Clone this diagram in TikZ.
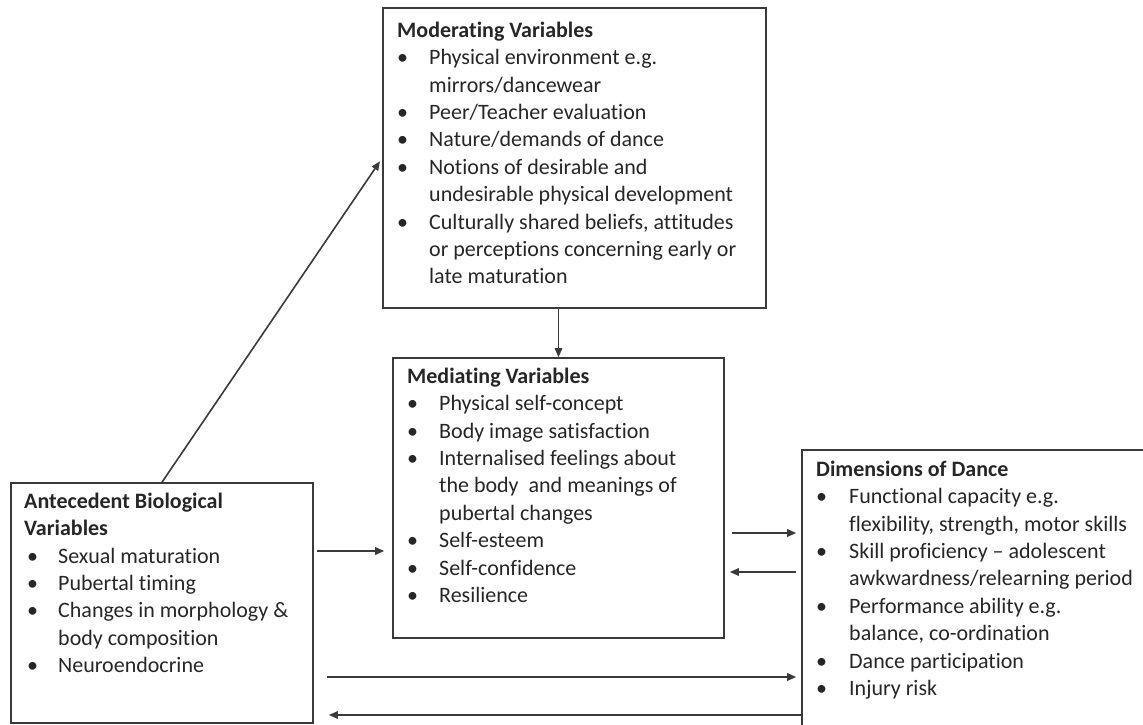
\documentclass[tikz,border=0pt]{standalone}
\usepackage{fontspec}
\setmainfont{Carlito}[Ligatures=NoCommon]
\usetikzlibrary{arrows.meta}
\definecolor{ink}{HTML}{262626}
\definecolor{edge}{HTML}{3A3A3A}
\newcommand\bul{\makebox[32pt][l]{\textbullet}}
\newcommand\ind{\hspace*{32pt}}
\newcommand\fst{\rule{0pt}{20pt}}
\begin{document}
\begin{tikzpicture}[x=1pt,y=-1pt,
  box/.style={draw=edge,line width=1.6pt,inner sep=0pt},
  txt/.style={anchor=north west,inner sep=0pt,align=left,text=ink,font=\fontsize{22}{27.4}\selectfont},
  arr/.style={draw=edge,line width=1.6pt,-{Triangle[length=9pt,width=7.5pt]}}]
\useasboundingbox (0,0) rectangle (1143,725);
% boxes
\node[box,minimum width=383pt,minimum height=300pt] (mod) at (574.5,158) {};
\node[box,minimum width=331pt,minimum height=280pt] (med) at (558.5,498) {};
\node[box,minimum width=302pt,minimum height=240pt] (ant) at (162,603) {};
\node[box,minimum width=348pt,minimum height=290pt] (dim) at (976,595) {};
% texts
\node[txt] (modt) at (397,17) {\fst\textbf{Moderating Variables}\\
\bul Physical environment e.g.\\
\ind mirrors/dancewear\\
\bul Peer/Teacher evaluation\\
\bul Nature/demands of dance\\
\bul Notions of desirable and\\
\ind undesirable physical development\\
\bul Culturally shared beliefs, attitudes\\
\ind or perceptions concerning early or\\
\ind late maturation};
\node[txt] (medt) at (407,363) {\fst\textbf{Mediating Variables}\\
\bul Physical self-concept\\
\bul Body image satisfaction\\
\bul Internalised feelings about\\
\ind the body\ \ and meanings of\\
\ind pubertal changes\\
\bul Self-esteem\\
\bul Self-confidence\\
\bul Resilience};
\node[txt] (antt) at (24,488) {\fst\textbf{Antecedent Biological}\\
\textbf{Variables}\\
\hspace*{3pt}\makebox[31pt][l]{\textbullet}Sexual maturation\\
\hspace*{3pt}\makebox[31pt][l]{\textbullet}Pubertal timing\\
\hspace*{3pt}\makebox[31pt][l]{\textbullet}Changes in morphology \&\\
\hspace*{34pt}body composition\\
\hspace*{3pt}\makebox[31pt][l]{\textbullet}Neuroendocrine};
\node[txt] (dimt) at (816,456) {\fst\textbf{Dimensions of Dance}\\
\makebox[33pt][l]{\textbullet}Functional capacity e.g.\\
\hspace*{33pt}flexibility, strength, motor skills\\
\makebox[33pt][l]{\textbullet}Skill proficiency – adolescent\\
\hspace*{33pt}awkwardness/relearning period\\
\makebox[33pt][l]{\textbullet}Performance ability e.g.\\
\hspace*{33pt}balance, co-ordination\\
\makebox[33pt][l]{\textbullet}Dance participation\\
\makebox[33pt][l]{\textbullet}Injury risk};
% helper levels
\coordinate (yA) at (0,551);
\coordinate (yB) at (0,533);
\coordinate (yC) at (0,572);
\coordinate (yD) at (0,677);
\coordinate (yE) at (0,715);
% connectors
\draw[arr,shorten >=4pt] (ant.north) -- (mod.west);
\draw[arr] (med.north |- mod.south) -- (med.north);
\draw[arr,shorten <=3pt,shorten >=8pt] (ant.east |- yA) -- (med.west |- yA);
\draw[arr,shorten <=7pt,shorten >=5pt] (med.east |- yB) -- (dim.west |- yB);
\draw[arr,shorten <=5pt,shorten >=5pt] (dim.west |- yC) -- (med.east |- yC);
\draw[arr,shorten <=13pt,shorten >=5pt] (ant.east |- yD) -- (dim.west |- yD);
\draw[arr,shorten >=15pt] (dim.west |- yE) -- (ant.east |- yE);
\end{tikzpicture}
\end{document}
